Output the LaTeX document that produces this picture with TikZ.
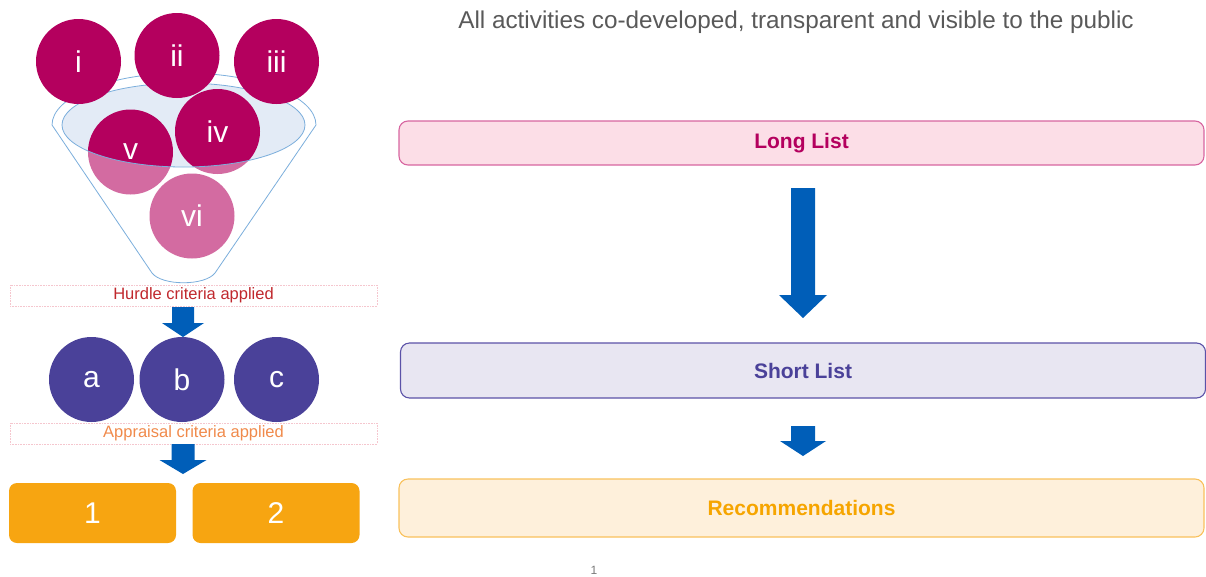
\documentclass[tikz,border=0pt]{standalone}
\usepackage{fontspec}
\setmainfont{Liberation Sans}
\definecolor{mag}{HTML}{B4005E}
\definecolor{purp}{HTML}{4A4199}
\definecolor{orng}{HTML}{F7A511}
\definecolor{arrblue}{HTML}{005EB8}
\definecolor{funline}{HTML}{7BAEDC}
\definecolor{funfill}{HTML}{E3EBF6}
\definecolor{hurdle}{HTML}{C0282D}
\definecolor{apprais}{HTML}{F08A4B}
\definecolor{dotpink}{HTML}{F5C6CE}
\definecolor{longfill}{HTML}{FCDEE7}
\definecolor{longline}{HTML}{D765A0}
\definecolor{shortfill}{HTML}{E8E6F2}
\definecolor{shortline}{HTML}{5B52A8}
\definecolor{recfill}{HTML}{FEF0DB}
\definecolor{recline}{HTML}{F9C15C}
\definecolor{recText}{HTML}{F6A500}
\definecolor{titlegray}{HTML}{595959}
\tikzset{
  circ/.style={circle, minimum size=85pt, inner sep=0pt, text=white, font=\fontsize{30}{30}\selectfont},
  magcirc/.style={circ, fill=mag},
  purpcirc/.style={circ, fill=purp},
  numbox/.style={rectangle, rounded corners=8pt, fill=orng, text=white, minimum width=167pt, minimum height=60pt, inner sep=0pt, font=\fontsize{30}{30}\selectfont},
  critbox/.style={rectangle, draw=dotpink, densely dotted, line width=0.6pt, minimum width=367pt, minimum height=21pt, inner sep=0pt, font=\fontsize{16.5}{16}\selectfont},
  listbox/.style={rectangle, rounded corners=9pt, line width=1.1pt, minimum width=805pt, inner sep=0pt, font=\bfseries\fontsize{21}{21}\selectfont},
  barrowstyle/.style={fill=arrblue, draw=none},
}
\newcommand\blockarr[6]{% x, ytop, yhead, ytip, shaft half, head half
  \fill[barrowstyle] (#1-#5,#2) -- (#1+#5,#2) -- (#1+#5,#3) -- (#1+#6,#3) -- (#1,#4) -- (#1-#6,#3) -- (#1-#5,#3) -- cycle;}
\begin{document}
\begin{tikzpicture}[x=1pt,y=-1pt]
\useasboundingbox (0,0) rectangle (1206,576);
% funnel back
\def\funnelpath{(52,125) arc[start angle=180, end angle=360, x radius=132, y radius=52] -- (215,273) .. controls (205,286) and (162,286) .. (152,273) -- cycle}
\fill[white] \funnelpath;
\fill[funfill] (183.5,125) ellipse[x radius=121.5, y radius=42];
% circles inside funnel
\node[magcirc] (iv) at (217.5,131.5) {iv};
\node[magcirc] (v) at (130.5,152) {v};
\node[magcirc] (vi) at (192,216) {vi};
% funnel front (translucent body)
\fill[white, fill opacity=0.42, even odd rule] \funnelpath (183.5,125) ellipse[x radius=121.5, y radius=42];
\draw[funline, line width=0.8pt] \funnelpath;
\draw[funline, line width=0.8pt] (183.5,125) ellipse[x radius=121.5, y radius=42];
% circles above funnel
\node[magcirc] (i) at (78.5,61.5) {i};
\node[magcirc] (ii) at (177,55.5) {ii};
\node[magcirc] (iii) at (276.5,61.5) {iii};
% criteria
\node[critbox, text=hurdle] (hurdle) at (193.5,295.5) {Hurdle criteria applied};
\blockarr{183}{307}{323}{337}{11}{21}
\node[purpcirc] (a) at (91.5,379.5) {a};
\node[purpcirc] (b) at (182,379.5) {b};
\node[purpcirc] (c) at (276.5,379.5) {c};
\node[critbox, text=apprais] (apprais) at (193.5,433.5) {Appraisal criteria applied};
\blockarr{183}{444}{460}{474}{11.5}{23.5}
\node[numbox] (n1) at (92.5,513) {1};
\node[numbox] (n2) at (276,513) {2};
% right side
\node[text=titlegray, font=\fontsize{24.3}{24}\selectfont, inner sep=0pt] (title) at (796,22) {All activities co-developed, transparent and visible to the public};
\node[listbox, fill=longfill, draw=longline, text=mag, minimum height=44pt] (long) at (801.5,143) {Long List};
\node[listbox, fill=shortfill, draw=shortline, text=purp, minimum height=55pt] (short) at (803,370.5) {Short List};
\node[listbox, fill=recfill, draw=recline, text=recText, minimum height=58pt] (rec) at (801.5,508) {Recommendations};
\blockarr{803}{188}{295}{318}{12}{24}
\blockarr{803}{426}{441}{456}{12}{23}
\node[text=titlegray!80, font=\fontsize{12}{12}\selectfont, inner sep=0pt] (page) at (594,570) {1};
\end{tikzpicture}
\end{document}
